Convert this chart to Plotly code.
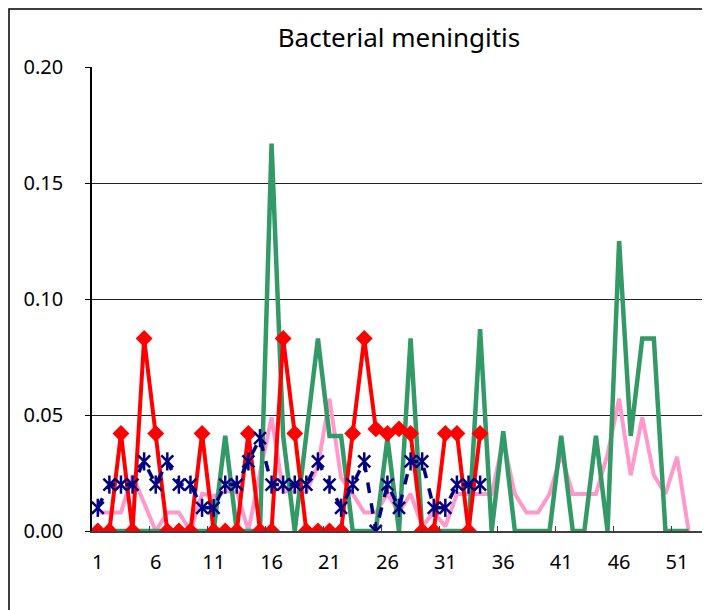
import plotly.graph_objects as go

# weekly rates, bacterial meningitis
weeks = list(range(1, 53))

# pink line - all 52 weeks
baseline = [0.008, 0.008, 0.008, 0.024, 0.012, 0.0, 0.008, 0.008, 0.0, 0.016,
            0.015, 0.017, 0.017, 0.0, 0.025, 0.049, 0.017, 0.017, 0.017, 0.028,
            0.057, 0.023, 0.016, 0.008, 0.008, 0.016, 0.008, 0.016, 0.002, 0.008,
            0.002, 0.016, 0.016, 0.016, 0.016, 0.039, 0.016, 0.008, 0.008, 0.016,
            0.033, 0.016, 0.016, 0.016, 0.033, 0.057, 0.024, 0.049, 0.024, 0.016,
            0.032, 0.0]

# green line - all 52 weeks
prev_year = [0, 0, 0, 0, 0, 0, 0, 0, 0, 0,
             0, 0.041, 0, 0, 0, 0.167, 0.041, 0, 0.042, 0.083,
             0.041, 0.041, 0, 0, 0, 0.040, 0, 0.083, 0, 0,
             0, 0, 0, 0.087, 0, 0.043, 0, 0, 0, 0,
             0.041, 0, 0, 0.041, 0, 0.125, 0.041, 0.083, 0.083, 0,
             0, 0]

# red diamonds - weeks 1-34
this_year = [0, 0, 0.042, 0, 0.083, 0.042, 0, 0, 0, 0.042,
             0, 0, 0, 0.042, 0, 0, 0.083, 0.042, 0, 0,
             0, 0, 0.042, 0.083, 0.044, 0.042, 0.044, 0.042, 0, 0,
             0.042, 0.042, 0, 0.042]

# navy stars, dashed - weeks 1-34
avg_line = [0.01, 0.02, 0.02, 0.02, 0.03, 0.02, 0.03, 0.02, 0.02, 0.01,
            0.01, 0.02, 0.02, 0.03, 0.04, 0.02, 0.02, 0.02, 0.02, 0.03,
            0.02, 0.01, 0.02, 0.03, 0.0, 0.02, 0.01, 0.03, 0.03, 0.01,
            0.01, 0.02, 0.02, 0.02]

x_ticks = [1, 6, 11, 16, 21, 26, 31, 36, 41, 46, 51]
y_ticks = [0.0, 0.05, 0.10, 0.15, 0.20]

fnt = "Noto Sans"
navy = "#000080"

# page body has ~8px margin, so the figure is laid out 8px smaller
W, H = 702, 602
L, T, R, B = 84, 59, 4, 79
pw, ph = W - L - R, H - T - B

fig = go.Figure()
fig.add_trace(go.Scatter(x=weeks, y=baseline, mode="lines",
                         line=dict(color="#ff99cc", width=4)))
fig.add_trace(go.Scatter(x=weeks, y=prev_year, mode="lines",
                         line=dict(color="#339966", width=4.5)))
fig.add_trace(go.Scatter(x=weeks[:len(this_year)], y=this_year, mode="lines+markers",
                         line=dict(color="#ff0000", width=4),
                         marker=dict(symbol="diamond", size=13, color="#ff0000")))
fig.add_trace(go.Scatter(x=weeks[:len(avg_line)], y=avg_line, mode="lines",
                         line=dict(color=navy, width=3.5, dash="dash")))
# excel style star: an x plus a vertical stroke
fig.add_trace(go.Scatter(x=weeks[:len(avg_line)], y=avg_line, mode="markers",
                         marker=dict(symbol="x-thin-open", size=12, color=navy,
                                     line=dict(color=navy, width=2.5))))
fig.add_trace(go.Scatter(x=weeks[:len(avg_line)], y=avg_line, mode="markers",
                         marker=dict(symbol="line-ns-open", size=13, color=navy,
                                     line=dict(color=navy, width=2.5))))

# little inside tick marks between categories
fig.add_trace(go.Scatter(x=[1], y=[0], xaxis="x2", mode="markers",
                         marker=dict(opacity=0), hoverinfo="skip"))

fig.update_layout(
    width=W, height=H,
    margin=dict(l=L, r=R, t=T, b=B),
    paper_bgcolor="white", plot_bgcolor="white",
    showlegend=False,
    font=dict(family=fnt, size=20, color="black"),
    title=dict(text="Bacterial meningitis", x=0.5, xref="paper",
               y=1 - 30 / H, yanchor="middle",
               font=dict(family=fnt, size=26, color="black")),
    xaxis=dict(range=[0.5, 53.5], tickvals=x_ticks, ticks="",
               showgrid=False, zeroline=False, showline=True,
               linecolor="#404040", linewidth=1.5,
               ticklabelstandoff=12),
    xaxis2=dict(range=[0.5, 53.5], overlaying="x", side="bottom",
                tickvals=[5.5 + 5 * i for i in range(10)], ticks="inside",
                ticklen=5, tickcolor="#404040", showticklabels=False,
                showgrid=False, zeroline=False, showline=False),
    yaxis=dict(range=[0, 0.2], tickvals=y_ticks, tickformat=".2f",
               ticks="outside", ticklen=5, tickcolor="black",
               showgrid=True, gridcolor="#222222", gridwidth=1,
               zeroline=False, showline=True, linecolor="black", linewidth=1.5,
               ticklabelstandoff=18),
    shapes=[
        # right edge of the plot frame
        dict(type="line", xref="paper", yref="paper", x0=1, x1=1, y0=0, y1=1,
             line=dict(color="#999999", width=2)),
        # outer chart border
        dict(type="rect", xref="paper", yref="paper",
             x0=-(L - 1) / pw, x1=1.2, y0=-0.5, y1=(ph + T - 1) / ph,
             line=dict(color="black", width=1.5)),
    ],
)

fig.write_html("out.html")
